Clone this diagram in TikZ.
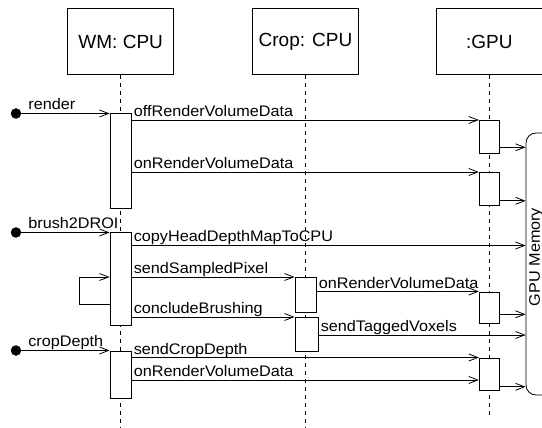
\documentclass[tikz,border=0pt]{standalone}
\usepackage{fontspec}
\setmainfont{Liberation Sans}
\newfontfamily\lblfont[FakeStretch=1.06]{Liberation Sans}
\usetikzlibrary{arrows.meta,calc}
\begin{document}
\begin{tikzpicture}[x=1pt,y=-1pt,
  every node/.style={font=\lblfont\fontsize{15.3}{18}\selectfont},
  lifebox/.style={draw, line width=0.8pt, minimum width=106pt, minimum height=66pt, inner sep=0pt, font=\rmfamily\fontsize{19}{22}\selectfont},
  lifeline/.style={line width=0.7pt, dash pattern=on 4.5pt off 3.5pt},
  actbar/.style={draw, fill=white, line width=0.8pt, minimum width=21pt, inner sep=0pt, anchor=north},
  gbar/.style={actbar, minimum width=20pt},
  msg/.style={line width=0.8pt, -{Straight Barb[length=9pt,width=7pt]}},
  startdot/.style={circle, fill=black, minimum size=10.5pt, inner sep=0pt},
  lbl/.style={anchor=base west, inner sep=0pt, xshift=2pt, yshift=3.5pt},
  dlbl/.style={anchor=base west, inner sep=0pt, xshift=6.5pt, yshift=4pt},
]
\useasboundingbox (0,0) rectangle (542,428);

% lifeline heads
\node[lifebox] (wm) at (120.7,41.5) {WM: CPU};
\node[lifebox] (crop) at (305.5,41.5) {Crop: CPU};
\node[lifebox] (gpu) at (489.3,41.5) {:GPU};
\coordinate (wmEnd) at (120.7,428);
\coordinate (cropEnd) at (305.5,428);
\coordinate (gpuEnd) at (489.3,417);
\draw[lifeline] (wm.south) -- (wmEnd);
\draw[lifeline] (crop.south) -- (cropEnd);
\draw[lifeline] (gpu.south) -- (gpuEnd);

% GPU memory
\node[draw, line width=0.8pt, rounded corners=10pt, minimum width=30pt, minimum height=262pt, inner sep=0pt] (mem) at (541,264) {};
\node[rotate=90, inner sep=0pt] (memlbl) at (536,257) {GPU Memory};

% activation bars
\node[actbar, minimum height=94.5pt] (wb1) at (120.5,113.5) {};
\node[actbar, minimum height=92.5pt] (wb2) at (120.5,232.5) {};
\node[actbar, minimum height=47.5pt] (wb3) at (120.5,350.5) {};
\node[actbar, minimum height=34.5pt] (cb1) at (305.5,277) {};
\node[actbar, minimum width=23pt, minimum height=33.5pt] (cb2) at (306.5,317) {};
\node[gbar, minimum height=33.5pt] (gb1) at (489.3,120) {};
\node[gbar, minimum height=33pt] (gb2) at (489.3,172) {};
\node[gbar, minimum height=31.5pt] (gb3) at (489.3,291.5) {};
\node[gbar, minimum height=32.5pt] (gb4) at (489.3,357.5) {};

% start dots
\node[startdot] (d1) at (16,113.5) {};
\node[startdot] (d2) at (16,232.5) {};
\node[startdot] (d3) at (16,350.5) {};

% messages
\draw[msg] (d1) -- node[dlbl,pos=0] (tRender) {render} (wb1.north west);
\draw[msg] (wb1.east |- gb1.north) -- node[lbl,pos=0] (tOff) {offRenderVolumeData} (gb1.north west);
\coordinate (o1) at ([yshift=7pt]gb1.south east);
\draw[msg] (o1) -- (o1 -| mem.west);
\draw[msg] (wb1.east |- gb2.north) -- node[lbl,pos=0] (tOn1) {onRenderVolumeData} (gb2.north west);
\coordinate (o2) at ([yshift=5pt]gb2.south east);
\draw[msg] (o2) -- (o2 -| mem.west);

\draw[msg] (d2) -- node[dlbl,pos=0] (tBrush) {brush2DROI} (wb2.north west);
\coordinate (c1) at ([yshift=-13pt]wb2.north east);
\draw[msg] (c1) -- node[lbl,pos=0] (tCopy) {copyHeadDepthMapToCPU} (c1 -| mem.west);
\draw[msg] (wb2.east |- cb1.north) -- node[lbl,pos=0] (tSend) {sendSampledPixel} (cb1.north west);
\coordinate (l1) at ([yshift=-44.5pt]wb2.north west);
\coordinate (l2) at ([yshift=-72pt]wb2.north west);
\draw[msg] (l2) -- ++(-30,0) |- (l1);
\draw[msg] (cb1.east |- gb3.north) -- node[lbl,pos=0] (tOn2) {onRenderVolumeData} (gb3.north west);
\coordinate (o3) at ([yshift=9.5pt]gb3.south east);
\draw[msg] (o3) -- (o3 -| mem.west);
\draw[msg] (wb2.east |- cb2.north) -- node[lbl,pos=0] (tConc) {concludeBrushing} (cb2.north west);
\coordinate (c2) at ([yshift=-18pt]cb2.north east);
\draw[msg] (c2) -- node[lbl,pos=0] (tTag) {sendTaggedVoxels} (c2 -| mem.west);

\draw[msg] (d3) -- node[dlbl,pos=0] (tCrop) {cropDepth} (wb3.north west);
\draw[msg] (wb3.east |- gb4.north) -- node[lbl,pos=0] (tSCD) {sendCropDepth} (gb4.north west);
\coordinate (c3) at ([yshift=-29.5pt]wb3.north east);
\draw[msg] (c3) -- node[lbl,pos=0] (tOn3) {onRenderVolumeData} (c3 -| gb4.west);
\coordinate (o4) at ([yshift=4pt]gb4.south east);
\draw[msg] (o4) -- (o4 -| mem.west);
\end{tikzpicture}
\end{document}
